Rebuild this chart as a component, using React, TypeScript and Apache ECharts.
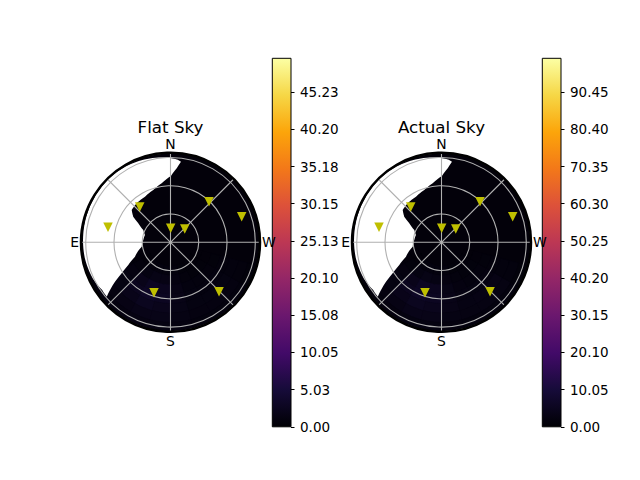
import React, { useEffect, useRef } from "react";
import * as echarts from "echarts";

// ---- data ----
// star markers (azimuth deg from N, counter-clockwise towards E; zenith angle deg)
const STAR_AZ = [41.1, 316.5, 289.8, 76.5, 359.2, 313.1, 161.9, 224.5];
const STAR_ZEN = [49.7, 59.4, 80.3, 68.2, 14.9, 20.7, 56.3, 73.5];

// boundary of the masked (white) sky region, in order
const MASK_AZ = [
  -7.4, -4.8, -0.4, 8.5, 18.2, 29.2, 40.9, 50.2, 55.5, 59.5, 65.7, 74.0, 85.2,
  98.7, 112.1, 118.3, 122.4, 125.4, 128.3, 130.5,
  125, 115, 100, 85, 70, 55, 40, 25, 12, 2, -5,
];
const MASK_ZEN = [
  86.3, 78.9, 70.4, 63.3, 58.5, 55.5, 54.8, 53.6, 48.0, 39.7, 31.7, 28.2, 29.0,
  30.9, 40.7, 50.9, 61.4, 72.3, 81.8, 89.0,
  88.5, 91, 92.5, 93, 93.5, 94, 94, 93, 91.5, 90, 88,
];

// sky brightness: background level and a glow grid over the southern sky
const GLOW_AZ_EDGES = [105, 120, 135, 150, 165, 180, 195, 210, 225, 240, 255];
const GLOW_ZEN_EDGES = [25, 35, 45, 55, 65, 75, 85, 95];
const FLAT_BASE = 0.6;
const FLAT_GLOW = [
  [0.6, 0.6, 0.8, 0.9, 0.9, 0.8, 0.7, 0.6, 0.6, 0.6],
  [0.6, 0.8, 1.2, 1.6, 1.5, 1.1, 0.8, 0.7, 0.7, 0.6],
  [0.7, 1.1, 2.0, 2.8, 2.4, 1.5, 1.0, 0.9, 0.8, 0.7],
  [0.8, 1.2, 2.4, 3.2, 2.7, 1.7, 1.2, 1.0, 1.0, 0.8],
  [0.8, 1.2, 2.0, 2.5, 2.2, 1.6, 1.2, 1.2, 1.2, 0.9],
  [0.7, 1.1, 1.5, 1.8, 1.8, 1.4, 1.1, 1.1, 1.1, 0.8],
  [0.6, 0.9, 1.1, 1.3, 1.3, 1.1, 0.9, 0.9, 0.9, 0.7],
];
const ACTUAL_BASE = 1.2;
const ACTUAL_GLOW = [
  [1.2, 1.2, 1.5, 1.8, 1.8, 1.6, 1.4, 1.3, 1.3, 1.2],
  [1.2, 1.5, 2.4, 3.2, 2.9, 2.2, 1.8, 1.5, 1.5, 1.3],
  [1.3, 2.1, 4.0, 5.6, 4.8, 3.2, 2.2, 1.9, 1.8, 1.5],
  [1.5, 2.4, 4.8, 6.4, 5.4, 3.5, 2.6, 2.4, 2.2, 1.6],
  [1.5, 2.4, 4.0, 5.0, 4.5, 3.4, 2.9, 3.0, 3.0, 1.9],
  [1.3, 2.1, 3.0, 3.7, 3.5, 2.9, 2.6, 2.7, 2.7, 1.8],
  [1.2, 1.6, 2.1, 2.4, 2.4, 2.1, 1.9, 1.9, 1.9, 1.4],
];

// colour bars
const FLAT_MAX = 49.8;
const FLAT_TICKS = [0, 5.025, 10.05, 15.075, 20.1, 25.125, 30.15, 35.175, 40.2, 45.225];
const FLAT_LABELS = ["0.00", "5.03", "10.05", "15.08", "20.10", "25.13", "30.15", "35.18", "40.20", "45.23"];
const ACTUAL_MAX = 99.6;
const ACTUAL_TICKS = [0, 10.05, 20.1, 30.15, 40.2, 50.25, 60.3, 70.35, 80.4, 90.45];
const ACTUAL_LABELS = ["0.00", "10.05", "20.10", "30.15", "40.20", "50.25", "60.30", "70.35", "80.40", "90.45"];

const TITLES = ["Flat Sky", "Actual Sky"];
const COMPASS_VALUES = [0, 90, 180, 270];
const COMPASS_LABELS = ["N", "E", "S", "W"];

const INFERNO = [
  "#000004", "#160b39", "#420a68", "#6a176e", "#932667", "#bc3754",
  "#dd513a", "#f37819", "#fca50a", "#f6d746", "#fcffa4",
];

const FONT = "DejaVu Sans";

function buildCells(base: number, glow: number[][]) {
  const cells: number[][] = [[0, 360, 0, 95, base]];
  for (let r = 0; r < glow.length; r++) {
    for (let c = 0; c < glow[r].length; c++) {
      cells.push([
        GLOW_AZ_EDGES[c],
        GLOW_AZ_EDGES[c + 1],
        GLOW_ZEN_EDGES[r],
        GLOW_ZEN_EDGES[r + 1],
        glow[r][c],
      ]);
    }
  }
  return cells;
}

const heatRender = (params: any, api: any) => {
  const a0 = api.value(0);
  const a1 = api.value(1);
  const z0 = api.value(2);
  const z1 = api.value(3);
  const n = Math.max(2, Math.ceil((a1 - a0) / 2));
  const pts: number[][] = [];
  for (let i = 0; i <= n; i++) pts.push(api.coord([z1, a0 + ((a1 - a0) * i) / n]));
  for (let i = n; i >= 0; i--) pts.push(api.coord([z0, a0 + ((a1 - a0) * i) / n]));
  const color = api.visual("color");
  return {
    type: "polygon",
    shape: { points: pts },
    style: { fill: color, stroke: color, lineWidth: 0.6 },
  };
};

const maskRender = (params: any, api: any) => {
  const pts: number[][] = [];
  const m = MASK_AZ.length;
  for (let i = 0; i < m; i++) {
    const j = (i + 1) % m;
    const steps = Math.max(1, Math.ceil(Math.abs(MASK_AZ[j] - MASK_AZ[i]) / 2));
    for (let s = 0; s < steps; s++) {
      const t = s / steps;
      pts.push(
        api.coord([
          MASK_ZEN[i] + (MASK_ZEN[j] - MASK_ZEN[i]) * t,
          MASK_AZ[i] + (MASK_AZ[j] - MASK_AZ[i]) * t,
        ])
      );
    }
  }
  return { type: "polygon", shape: { points: pts }, style: { fill: "#ffffff" } };
};

function compassLabel(v: number) {
  const i = COMPASS_VALUES.indexOf(Math.round(v));
  return i >= 0 && v < 359 ? COMPASS_LABELS[i] : "";
}

function tickLabel(ticks: number[], labels: string[]) {
  return (v: number) => {
    for (let i = 0; i < ticks.length; i++) {
      if (Math.abs(ticks[i] - v) < 1e-3) return labels[i];
    }
    return "";
  };
}

const CENTERS = [
  [170.5, 242.3],
  [441.5, 242.3],
];
const CB_LEFT = [272.3, 542.3];

export default function App() {
  const ref = useRef<HTMLDivElement>(null);
  useEffect(() => {
    if (!ref.current) return;
    const chart = echarts.init(ref.current, null, { renderer: "svg" });
    const stars = STAR_ZEN.map((z, i) => [z, STAR_AZ[i]]);
    const gradient = new echarts.graphic.LinearGradient(
      0, 1, 0, 0,
      INFERNO.map((c, i) => ({ offset: i / (INFERNO.length - 1), color: c }))
    );
    const option: any = {
      animation: false,
      backgroundColor: "#ffffff",
      polar: CENTERS.map((c) => ({ center: c, radius: 89.5 })),
      angleAxis: [0, 1].map((k) => ({
        polarIndex: k,
        type: "value",
        min: 0,
        max: 360,
        interval: 45,
        startAngle: 90,
        clockwise: false,
        z: 6,
        axisLine: { show: true, lineStyle: { color: "#000000", width: 2.5 } },
        axisTick: { show: false },
        splitLine: { show: true, lineStyle: { color: "#b0b0b0", width: 1.1 } },
        axisLabel: {
          show: true,
          margin: 2,
          color: "#000000",
          fontSize: 13.9,
          fontFamily: FONT,
          formatter: compassLabel,
        },
      })),
      radiusAxis: [0, 1].map((k) => ({
        polarIndex: k,
        type: "value",
        min: 0,
        max: 95,
        interval: 30,
        z: 5,
        axisLine: { show: false },
        axisTick: { show: false },
        axisLabel: { show: false },
        splitLine: { show: true, lineStyle: { color: "#b0b0b0", width: 1.1 } },
      })),
      grid: CB_LEFT.map((l) => ({
        left: l,
        top: 58.3,
        width: 18.7,
        height: 368.5,
        show: true,
        borderColor: "#000000",
        borderWidth: 1,
        backgroundColor: "transparent",
        z: 5,
      })),
      xAxis: [0, 1].map((k) => ({
        gridIndex: k,
        type: "category",
        data: [""],
        show: false,
      })),
      yAxis: [
        [FLAT_MAX, FLAT_TICKS, FLAT_LABELS],
        [ACTUAL_MAX, ACTUAL_TICKS, ACTUAL_LABELS],
      ].map(([mx, ticks, labels]: any, k) => ({
        gridIndex: k,
        type: "value",
        position: "right",
        min: 0,
        max: mx,
        interval: ticks[1],
        axisLine: { show: false },
        splitLine: { show: false },
        axisTick: {
          show: true,
          length: 3.5,
          customValues: ticks,
          lineStyle: { color: "#000000", width: 1 },
        },
        axisLabel: {
          show: true,
          margin: 9,
          customValues: ticks,
          color: "#000000",
          fontSize: 13.5,
          fontFamily: FONT,
          formatter: tickLabel(ticks, labels),
        },
      })),
      visualMap: [
        { type: "continuous", show: false, seriesIndex: 0, dimension: 4, min: 0, max: FLAT_MAX, inRange: { color: INFERNO } },
        { type: "continuous", show: false, seriesIndex: 1, dimension: 4, min: 0, max: ACTUAL_MAX, inRange: { color: INFERNO } },
      ],
      graphic: TITLES.map((t, k) => ({
        type: "text",
        x: CENTERS[k][0],
        y: 127,
        style: {
          text: t,
          fill: "#000000",
          fontSize: 16.7,
          fontFamily: FONT,
          textAlign: "center",
          textVerticalAlign: "middle",
          align: "center",
          verticalAlign: "middle",
        },
      })),
      series: [
        {
          type: "custom",
          coordinateSystem: "polar",
          polarIndex: 0,
          z: 1,
          encode: { radius: 2, angle: 0 },
          renderItem: heatRender,
          data: buildCells(FLAT_BASE, FLAT_GLOW),
          silent: true,
        },
        {
          type: "custom",
          coordinateSystem: "polar",
          polarIndex: 1,
          z: 1,
          encode: { radius: 2, angle: 0 },
          renderItem: heatRender,
          data: buildCells(ACTUAL_BASE, ACTUAL_GLOW),
          silent: true,
        },
        {
          type: "custom",
          coordinateSystem: "polar",
          polarIndex: 0,
          z: 2,
          renderItem: maskRender,
          data: [[0, 0]],
          silent: true,
        },
        {
          type: "custom",
          coordinateSystem: "polar",
          polarIndex: 1,
          z: 2,
          renderItem: maskRender,
          data: [[0, 0]],
          silent: true,
        },
        {
          type: "scatter",
          coordinateSystem: "polar",
          polarIndex: 0,
          z: 10,
          symbol: "triangle",
          symbolRotate: 180,
          symbolSize: 9.5,
          itemStyle: { color: "#bfbf00", opacity: 1 },
          data: stars,
        },
        {
          type: "scatter",
          coordinateSystem: "polar",
          polarIndex: 1,
          z: 10,
          symbol: "triangle",
          symbolRotate: 180,
          symbolSize: 9.5,
          itemStyle: { color: "#bfbf00", opacity: 1 },
          data: stars,
        },
        {
          type: "bar",
          xAxisIndex: 0,
          yAxisIndex: 0,
          barWidth: "100%",
          itemStyle: { color: gradient },
          data: [FLAT_MAX],
          silent: true,
        },
        {
          type: "bar",
          xAxisIndex: 1,
          yAxisIndex: 1,
          barWidth: "100%",
          itemStyle: { color: gradient },
          data: [ACTUAL_MAX],
          silent: true,
        },
      ],
    };
    chart.setOption(option);
    return () => chart.dispose();
  }, []);
  return (
    <div
      ref={ref}
      style={{ position: "absolute", left: 0, top: 0, width: 640, height: 480 }}
    />
  );
}
